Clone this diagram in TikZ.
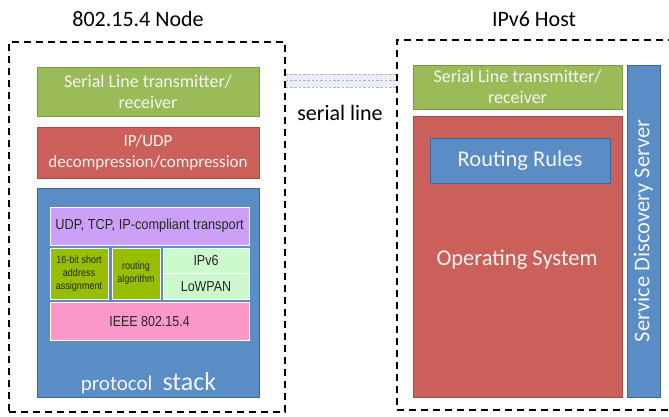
\documentclass[tikz,border=0pt]{standalone}
\usepackage{fontspec}
\setmainfont{Carlito}
\newfontfamily\arialf{Liberation Sans}
\usetikzlibrary{calc}
\definecolor{cgreen}{HTML}{9BBB59}
\definecolor{cgreenb}{HTML}{7A9A40}
\definecolor{cred}{HTML}{CB5F5A}
\definecolor{credb}{HTML}{A84A45}
\definecolor{cblue}{HTML}{5A8DC6}
\definecolor{cblueb}{HTML}{41679A}
\definecolor{cpurple}{HTML}{CDA0F7}
\definecolor{cdgreen}{HTML}{97BE00}
\definecolor{clgreen}{HTML}{CCFACC}
\definecolor{cpink}{HTML}{FC97CA}
\definecolor{cline}{HTML}{A9B9CC}
\definecolor{ctext}{HTML}{F4F4F4}
\tikzset{
  x=1pt,y=-1pt,
  outerbox/.style={draw=black,line width=1.6pt,dash pattern=on 7pt off 5pt,inner sep=0pt},
  blk/.style={draw=#1b,fill=#1,line width=0.8pt,inner sep=0pt,text=ctext,align=center,font=\fontsize{18}{21}\selectfont},
  inner/.style={draw=white,fill=#1,line width=1pt,inner sep=0pt,text=black!85,align=center,font=\arialf},
  lbl/.style={inner sep=0pt,font=\fontsize{22}{24}\selectfont},
}
\begin{document}
\begin{tikzpicture}
\useasboundingbox (0,0) rectangle (669,416);
\clip (0,0) rectangle (669,416);
% titles
\node[lbl] (t1) at (138,19) {802.15.4 Node};
\node[lbl] (t2) at (534,19) {IPv6 Host};
% left
\node[outerbox,minimum width=276pt,minimum height=370pt] (L) at (147,227) {};
\node[blk=cgreen,minimum width=222pt,minimum height=49pt] (lg) at (148,91.5) {Serial Line transmitter/\\receiver};
\node[blk=cred,minimum width=222pt,minimum height=51pt,font=\fontsize{17}{20.5}\selectfont] (lr) at (148,152.5) {IP/UDP\\decompression/compression};
\node[blk=cblue,minimum width=222pt,minimum height=209pt] (ls) at (148,292.5) {};
\node[inner=cpurple,minimum width=199pt,minimum height=38pt,font=\arialf\fontsize{14.5}{16}\selectfont] (udp) at (149.5,226) {\scalebox{0.88}[1]{UDP, TCP, IP-compliant transport}};
\node[inner=cdgreen,minimum width=58pt,minimum height=51pt,font=\arialf\fontsize{10.5}{13}\selectfont] (sa) at (79,273.5) {\scalebox{0.86}[1]{16-bit short}\\\scalebox{0.86}[1]{address}\\\scalebox{0.86}[1]{assignment}};
\node[inner=cdgreen,minimum width=48pt,minimum height=51pt,font=\arialf\fontsize{10.5}{13}\selectfont] (ra) at (136,273.5) {\scalebox{0.86}[1]{routing}\\\scalebox{0.86}[1]{algorithm}};
\node[inner=clgreen,minimum width=86pt,minimum height=25.5pt,font=\arialf\fontsize{14.5}{15}\selectfont] (ip6) at (206,260.75) {\scalebox{0.86}[1]{IPv6}};
\node[inner=clgreen,minimum width=86pt,minimum height=25.5pt,font=\arialf\fontsize{14.5}{15}\selectfont] (lw) at (206,286.25) {\scalebox{0.86}[1]{LoWPAN}};
\node[inner=cpink,minimum width=199pt,minimum height=38pt,font=\arialf\fontsize{14.5}{16}\selectfont] (ieee) at (149.5,321) {\scalebox{0.86}[1]{IEEE 802.15.4}};
\node[inner sep=0pt,text=ctext,anchor=base] (ps) at (148.5,390) {\fontsize{21}{22}\selectfont protocol\hspace{10pt}\fontsize{26}{26}\selectfont stack};
% right
\node[outerbox,minimum width=296pt,minimum height=370pt] (R) at (545,225) {};
\node[blk=cgreen,minimum width=209pt,minimum height=44pt] (rg) at (517.5,87) {Serial Line transmitter/\\receiver};
\node[blk=cred,minimum width=209pt,minimum height=281pt] (os) at (517.5,256.5) {};
\node[inner sep=0pt,text=ctext,font=\fontsize{22.5}{24}\selectfont] (ost) at (517,260) {Operating System};
\node[blk=cblue,minimum width=180pt,minimum height=45pt,font=\fontsize{22.5}{24}\selectfont] (rr) at (520,160.5) {Routing Rules};
\node[blk=cblue,minimum width=332pt,minimum height=33pt,rotate=90,font=\fontsize{22.5}{24}\selectfont] (sds) at (643.5,231) {Service Discovery Server};
% serial line
\coordinate (a1) at ($(L.north east)+(0,33)$);
\coordinate (a2) at ($(L.north east)+(0,46)$);
\coordinate (b1) at ($(R.north west)+(0,35)$);
\coordinate (b2) at ($(R.north west)+(0,48)$);
\fill[cline!25] (a1) rectangle (b2);
\draw[cline,line width=0.9pt,dash pattern=on 2.5pt off 1.8pt] (a1) -- (b1);
\draw[cline,line width=0.9pt,dash pattern=on 2.5pt off 1.8pt] ($(a1)!0.5!(a2)$) -- ($(b1)!0.5!(b2)$);
\draw[cline,line width=0.9pt,dash pattern=on 2.5pt off 1.8pt] (a2) -- (b2);
\node[lbl] (sl) at (340,113) {serial line};
\end{tikzpicture}
\end{document}
